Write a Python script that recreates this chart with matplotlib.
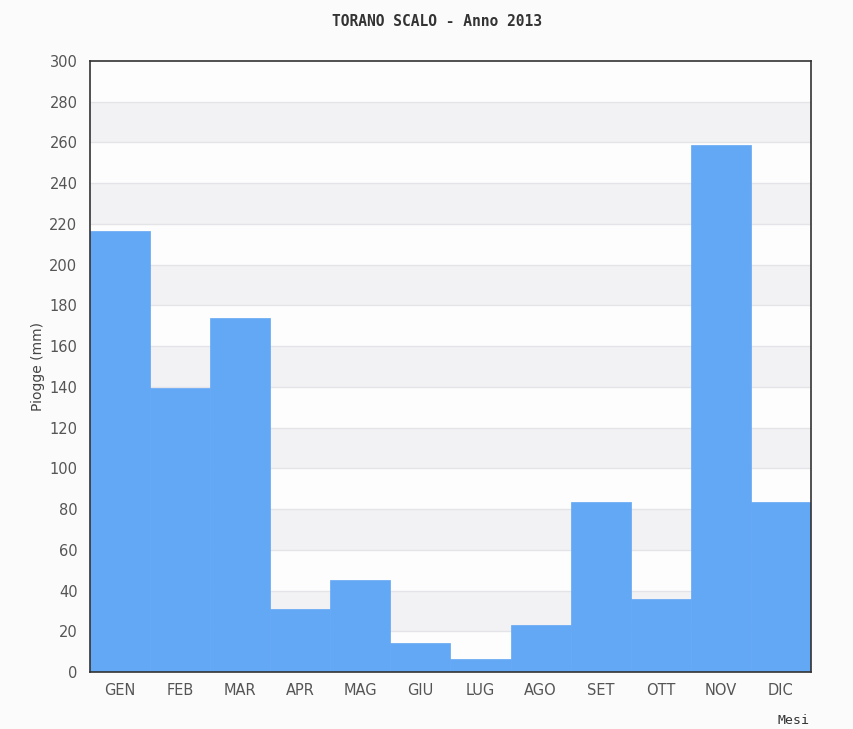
import matplotlib
matplotlib.use("Agg")
import matplotlib.pyplot as plt
import numpy as np

months = ["GEN", "FEB", "MAR", "APR", "MAG", "GIU", "LUG", "AGO", "SET", "OTT", "NOV", "DIC"]
rain_mm = [216.5, 139.4, 173.8, 30.9, 45.2, 14.2, 6.4, 23.1, 83.5, 35.8, 258.7, 83.5]
y_ticks = list(range(0, 301, 20))

bg = "#fafbfa"
fig = plt.figure(figsize=(8.54, 7.29), dpi=100, facecolor=bg)
ax = fig.add_axes([90/854, 1-672/729, 721/854, 611/729])
ax.set_facecolor("#fdfdfd")

# alternating bands
for lo in range(20, 300, 40):
    ax.axhspan(lo, lo + 20, color="#f2f2f4", zorder=0, lw=0)
for y in y_ticks[1:-1]:
    ax.axhline(y, color="#e4e4e8", lw=1, zorder=0.5)

x = np.arange(len(months))
ax.bar(x, rain_mm, width=1.0, color="#63a8f5", edgecolor="#63a8f5", lw=0.5, zorder=2)

ax.set_xlim(-0.5, len(months) - 0.5)
ax.set_ylim(0, 300)
ax.set_yticks(y_ticks)
ax.set_xticks(x)
ax.set_xticklabels(months)
ax.tick_params(axis="both", colors="#555555", labelsize=10.5, length=0, pad=8)
ax.tick_params(axis="y", pad=9)
for s in ax.spines.values():
    s.set_color("#333333")
    s.set_linewidth(1.2)

fig.text(437/854, 1-22/729, "TORANO SCALO - Anno 2013", ha="center", va="center",
         family="DejaVu Sans Mono", fontweight="bold", fontsize=10.5, color="#333333")
fig.text(794/854, 1-720/729, "Mesi", ha="center", va="center",
         family="DejaVu Sans Mono", fontsize=9.5, color="#333333")
fig.text(38/854, 1-366/729, "Piogge (mm)", ha="center", va="center", rotation=90,
         fontsize=10, color="#444444")

fig.savefig("out.png", dpi=100, facecolor=bg)
